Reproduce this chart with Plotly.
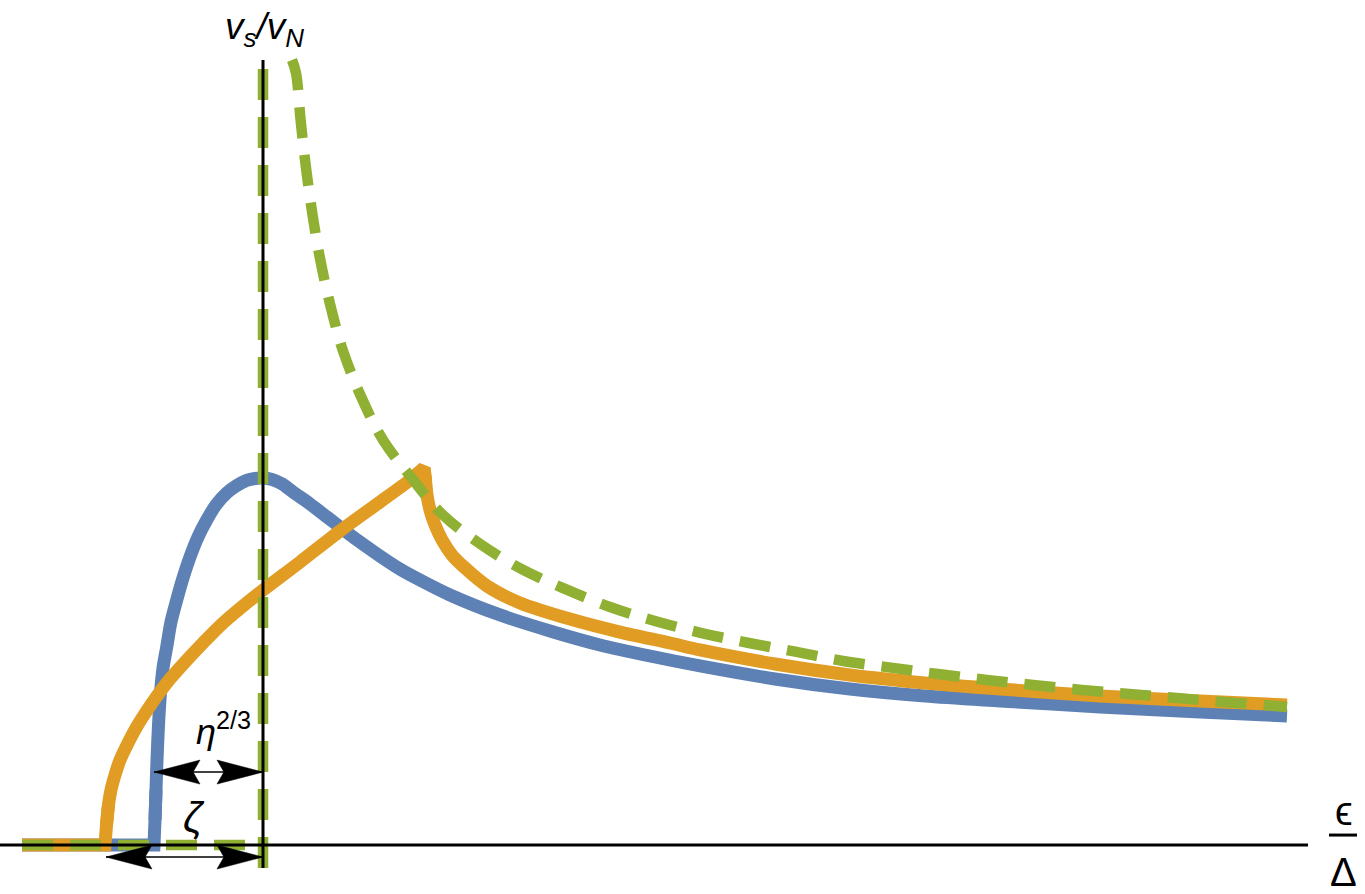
import plotly.graph_objects as go

# x: energy in units of Delta (Delta at 1), y: v_s / v_N
delta = 1.0
gap_blue = 0.891     # edge of blue curve (eta^{2/3} below Delta)
gap_orange = 0.843   # edge of orange curve (zeta below Delta)
x_left = 0.759

blue_x = [0.759, 0.891, 0.892, 0.893, 0.894, 0.8955, 0.8975, 0.900, 0.9037, 0.908, 0.9137,
          0.920, 0.927, 0.935, 0.9437, 0.953, 0.9637, 0.973, 0.9837, 0.992, 1.000, 1.009,
          1.019, 1.030, 1.047, 1.064, 1.077, 1.097, 1.117, 1.137, 1.157, 1.187, 1.237,
          1.287, 1.337, 1.387, 1.437, 1.512, 1.587, 1.662, 1.737, 1.837, 1.937, 2.024]
blue_y = [0.0, 0.0, 0.179, 0.393, 0.607, 0.857, 1.086, 1.264, 1.414, 1.593, 1.75,
          1.907, 2.057, 2.2, 2.321, 2.429, 2.514, 2.564, 2.604, 2.618, 2.621, 2.611,
          2.579, 2.521, 2.436, 2.343, 2.271, 2.164, 2.064, 1.971, 1.893, 1.786, 1.643,
          1.529, 1.429, 1.35, 1.279, 1.186, 1.114, 1.064, 1.029, 0.986, 0.95, 0.921]

orange_x = [0.759, 0.842, 0.8435, 0.8455, 0.848, 0.852, 0.857, 0.864, 0.873, 0.883, 0.894,
            0.907, 0.922, 0.940, 0.959, 0.980, 1.000, 1.037, 1.077, 1.117, 1.147, 1.161,
            1.1625, 1.164, 1.167, 1.172, 1.179, 1.189, 1.202, 1.224, 1.257, 1.307, 1.357,
            1.407, 1.437, 1.512, 1.587, 1.662, 1.737, 1.837, 1.937, 2.024]
orange_y = [0.0, 0.0, 0.143, 0.286, 0.393, 0.5, 0.607, 0.714, 0.836, 0.95, 1.064,
            1.186, 1.307, 1.443, 1.579, 1.707, 1.821, 2.021, 2.243, 2.45, 2.607, 2.693,
            2.607, 2.5, 2.393, 2.286, 2.179, 2.071, 1.979, 1.85, 1.729, 1.614, 1.521,
            1.443, 1.393, 1.293, 1.214, 1.157, 1.114, 1.064, 1.029, 1.0]
orange_cusp = 21  # index of the sharp peak

green_x = [1.029, 1.033, 1.0377, 1.043, 1.0497, 1.0577, 1.068, 1.080, 1.0987, 1.120, 1.1487,
           1.180, 1.2187, 1.2587, 1.302, 1.347, 1.392, 1.4387, 1.486, 1.5337, 1.580, 1.628,
           1.675, 1.7237, 1.770, 1.8187, 1.866, 1.9137, 1.961, 2.009, 2.024]
green_y = [5.607, 5.514, 5.171, 4.836, 4.493, 4.164, 3.836, 3.529, 3.193, 2.893, 2.621,
           2.357, 2.143, 1.971, 1.829, 1.70, 1.60, 1.514, 1.443, 1.379, 1.314, 1.267,
           1.221, 1.179, 1.143, 1.107, 1.079, 1.05, 1.021, 0.995, 0.986]
green_flat_x = [x_left, delta]
green_flat_y = [0.0, 0.0]
green_vert_x = [delta, delta]
green_vert_y = [-0.164, 5.607]

x_range = [0.737, 2.102]
y_range = [-0.35, 6.0357]
W, H = 1365, 894
px_x = W / (x_range[1] - x_range[0])
px_y = H / (y_range[1] - y_range[0])

BLUE = "#5E81B5"
ORANGE = "#E19C24"
GREEN = "#8FB032"
FONT = "Liberation Sans, Arial, sans-serif"
LW = 13

fig = go.Figure()


def seg(xs, ys, i0, i1, color, shape):
    fig.add_trace(go.Scatter(x=xs[i0:i1], y=ys[i0:i1], mode="lines",
                             line=dict(color=color, width=LW, shape=shape,
                                       smoothing=0.8 if shape == "spline" else None),
                             hoverinfo="skip"))


# blue: flat part + corner (linear), rest smooth
seg(blue_x, blue_y, 0, 4, BLUE, "linear")
seg(blue_x, blue_y, 2, len(blue_x), BLUE, "spline")
# orange: flat + corner, rise, sharp cusp, fall
seg(orange_x, orange_y, 0, 4, ORANGE, "linear")
seg(orange_x, orange_y, 2, orange_cusp + 1, ORANGE, "spline")
seg(orange_x, orange_y, orange_cusp - 1, orange_cusp + 2, ORANGE, "linear")
seg(orange_x, orange_y, orange_cusp, len(orange_x), ORANGE, "spline")

for gx, gy, shp in [(green_x, green_y, "spline"), (green_flat_x, green_flat_y, "linear"),
                    (green_vert_x, green_vert_y, "linear")]:
    fig.add_trace(go.Scatter(x=gx, y=gy, mode="lines", hoverinfo="skip",
                             line=dict(color=GREEN, width=10.5, dash="31px,17px", shape=shp)))

shapes = []
# axes
shapes.append(dict(type="line", xref="x", yref="y", x0=x_range[0], x1=2.045, y0=0, y1=0,
                   line=dict(color="black", width=3)))
shapes.append(dict(type="line", xref="x", yref="y", x0=delta, x1=delta, y0=-0.164, y1=5.607,
                   line=dict(color="black", width=3)))


def head(tip, y, direction):
    L = 46 / px_x
    h = 12 / px_y
    back = tip - direction * L
    notch = tip - direction * 0.85 * L
    return dict(type="path", xref="x", yref="y",
                path=f"M{tip},{y} L{back},{y + h} L{notch},{y} L{back},{y - h} Z",
                fillcolor="black", line=dict(color="black", width=0.5))


eta_y = 0.521
zeta_y = -0.086
for left, yy in [(gap_blue, eta_y), (gap_orange, zeta_y)]:
    shapes.append(dict(type="line", xref="x", yref="y", x0=left, x1=delta, y0=yy, y1=yy,
                       line=dict(color="black", width=1.5)))
    shapes.append(head(left, yy, -1))
    shapes.append(head(delta, yy, 1))
# fraction bar of eps/Delta
shapes.append(dict(type="line", xref="x", yref="y", x0=2.066, x1=2.094, y0=0.071, y1=0.071,
                   line=dict(color="black", width=3)))

annotations = [
    dict(x=1.0015, y=5.83, text="<i>v<sub>s</sub>/v<sub>N</sub></i>", showarrow=False,
         font=dict(family=FONT, size=37, color="black"), xanchor="center", yanchor="middle"),
    dict(x=0.9605, y=0.83, text="<i>η</i><sup>2/3</sup>", showarrow=False,
         font=dict(family=FONT, size=36, color="black"), xanchor="center", yanchor="middle"),
    dict(x=0.931, y=0.20, text="<i>ζ</i>", showarrow=False,
         font=dict(family=FONT, size=42, color="black"), xanchor="center", yanchor="middle"),
    dict(x=2.081, y=0.245, text="ϵ", showarrow=False,
         font=dict(family=FONT, size=40, color="black"), xanchor="center", yanchor="middle"),
    dict(x=2.08, y=-0.19, text="Δ", showarrow=False,
         font=dict(family=FONT, size=40, color="black"), xanchor="center", yanchor="middle"),
]

fig.update_layout(
    width=W, height=H, margin=dict(l=0, r=0, t=0, b=0),
    paper_bgcolor="white", plot_bgcolor="white", showlegend=False,
    xaxis=dict(range=x_range, visible=False, fixedrange=True),
    yaxis=dict(range=y_range, visible=False, fixedrange=True),
    shapes=shapes, annotations=annotations,
)
fig.write_html("out.html")
